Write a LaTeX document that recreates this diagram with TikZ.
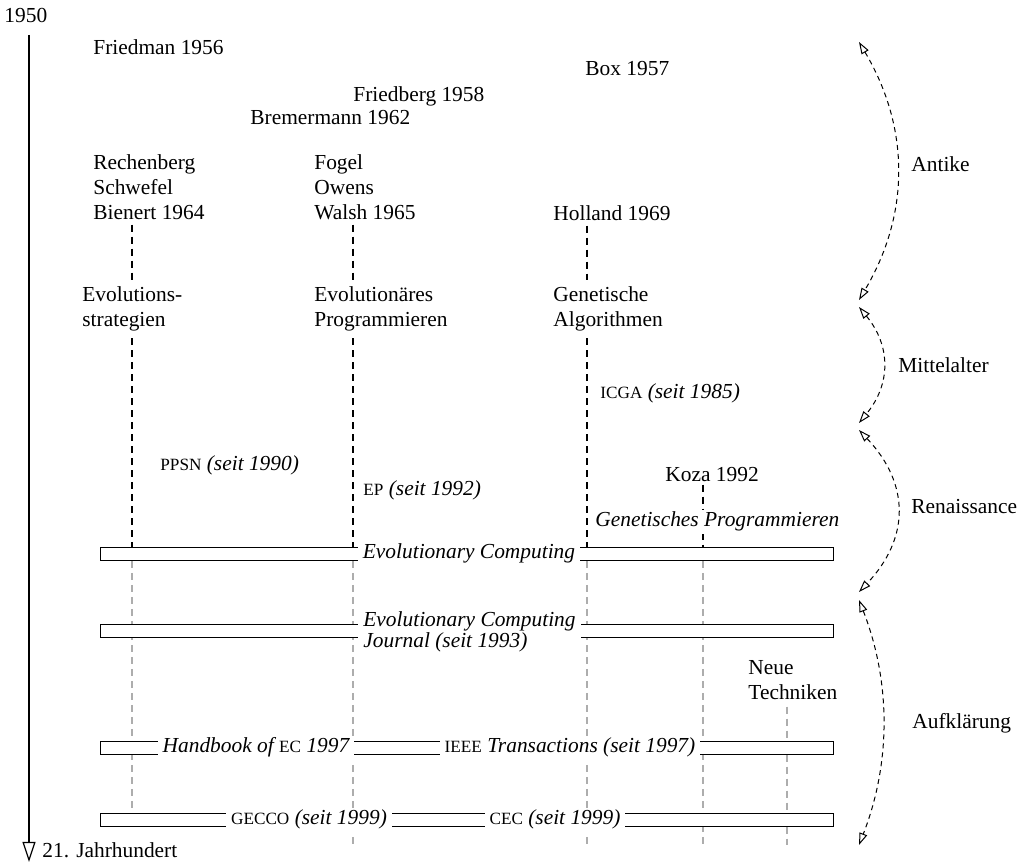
\documentclass[tikz,border=0pt]{standalone}
\usepackage{fontspec}
\setmainfont{Liberation Serif}
\usetikzlibrary{arrows.meta}
% faked small capitals for acronyms
\newcommand\acr[1]{{\fontsize{8.6}{10}\selectfont\upshape #1}}

\begin{document}
\begin{tikzpicture}[x=0.5pt,y=-0.5pt,
  every node/.style={font=\fontsize{10.7}{12.5}\selectfont, inner sep=0pt},
  txt/.style={anchor=base west, align=left},
  lineage/.style={line width=1pt, dash pattern=on 3.5pt off 2.5pt},
  later/.style={lineage, draw=black!32},
  bar/.style={draw, fill=white, line width=0.5pt, minimum width=366.5pt,
    minimum height=6.5pt, anchor=north west},
  onbar/.style={fill=white, inner xsep=2.5pt, inner ysep=1pt, anchor=base,
    font=\fontsize{10.7}{12.5}\selectfont\itshape},
  era/.style={line width=0.5pt, dash pattern=on 2.5pt off 2pt,
    {Triangle[open,length=6pt,width=4pt]}-{Triangle[open,length=6pt,width=4pt]}}
]
\useasboundingbox (0,0) rectangle (1025,866);

% time axis
\node[txt] (y1950) at (4,23) {1950};
\node[txt] (y2000) at (42,858) {21. Jahrhundert};
\coordinate (t0) at (29,35);
\coordinate (t1) at (29,862);
\draw[line width=0.6pt, -{Triangle[open,length=10pt,width=6.5pt]}] (t0) -- (t1);

% columns of the three schools and later branches
\coordinate (cES) at (132,0);
\coordinate (cEP) at (353,0);
\coordinate (cGA) at (587,0);
\coordinate (cGP) at (703,0);
\coordinate (cNT) at (787,0);
\coordinate (bottom) at (0,845);

% early pioneers
\node[txt] (friedman) at (93,55) {Friedman 1956};
\node[txt] (box) at (585,76) {Box 1957};
\node[txt] (friedberg) at (353,102) {Friedberg 1958};
\node[txt] (bremermann) at (250,125) {Bremermann 1962};

% founders (base = last line)
\node[txt] (esfound) at (93,220) {Rechenberg\\Schwefel\\Bienert 1964};
\node[txt] (epfound) at (314,220) {Fogel\\Owens\\Walsh 1965};
\node[txt] (gafound) at (553,221) {Holland 1969};

% schools
\node[txt] (es) at (82,327) {Evolutions-\\strategien};
\node[txt] (ep) at (314,327) {Evolutionäres\\Programmieren};
\node[txt] (ga) at (553,327) {Genetische\\Algorithmen};

% conferences of the schools
\node[txt] (icga) at (600,399) {\acr{ICGA} \textit{(seit 1985)}};
\node[txt] (ppsn) at (160,471) {\acr{PPSN} \textit{(seit 1990)}};
\node[txt] (epconf) at (363,496) {\acr{EP} \textit{(seit 1992)}};
\node[txt] (koza) at (665,482) {Koza 1992};

% bars of the joint field
\node[bar] (bar1) at (100,547) {};
\node[bar] (bar2) at (100,624) {};
\node[bar] (bar3) at (100,741) {};
\node[bar] (bar4) at (100,813) {};

% lines founders -> schools
\draw[lineage, shorten <=2pt, shorten >=3.5pt] (esfound.south -| cES) -- (es.north -| cES);
\draw[lineage, shorten <=2pt, shorten >=3.5pt] (epfound.south -| cEP) -- (ep.north -| cEP);
\draw[lineage, shorten <=2pt, shorten >=3.5pt] (gafound.south -| cGA) -- (ga.north -| cGA);

% lines schools -> joint field
\draw[lineage, shorten <=3pt] (es.south -| cES) -- (bar1.north -| cES);
\draw[lineage, shorten <=3pt] (ep.south -| cEP) -- (bar1.north -| cEP);
\draw[lineage, shorten <=3pt] (ga.south -| cGA) -- (bar1.north -| cGA);
\draw[lineage, shorten <=1pt] (koza.south -| cGP) -- (bar1.north -| cGP);

% continuing lines below the joint field
\node[txt] (neue) at (748,700) {Neue\\Techniken};
\draw[later] (bar1.south -| cES) -- (bar4.south -| cES);
\draw[later] (bar1.south -| cEP) -- (bottom -| cEP);
\draw[later] (bar1.south -| cGA) -- (bottom -| cGA);
\draw[later] (bar1.south -| cGP) -- (bottom -| cGP);
\draw[later, shorten <=3pt] (neue.south -| cNT) -- (bottom -| cNT);

% redraw bars above the grey lines
\node[bar] at (bar1.north west) {};
\node[bar] at (bar2.north west) {};
\node[bar] at (bar3.north west) {};
\node[bar] at (bar4.north west) {};

% genetic programming label
\node[txt, fill=white, inner sep=1pt, font=\fontsize{10.7}{12.5}\selectfont\itshape]
  (gp) at (593,527) {Genetisches Programmieren};

% labels on the bars
\node[onbar] (ec) at (469,559) {Evolutionary Computing};
\node[onbar, anchor=north west, align=left, inner xsep=2.5pt, font=\fontsize{10.7}{10.5}\selectfont\itshape]
  (ecj) at (358,609) {Evolutionary Computing\\Journal (seit 1993)};
\node[onbar] (hb) at (256,753) {Handbook of \acr{EC} 1997};
\node[onbar] (ieee) at (570,753) {\acr{IEEE} Transactions (seit 1997)};
\node[onbar] (gecco) at (309,825) {\acr{GECCO} (seit 1999)};
\node[onbar] (cec) at (555,825) {\acr{CEC} (seit 1999)};

% eras
\node[txt] (antike) at (911,172) {Antike};
\node[txt] (mittel) at (898,373) {Mittelalter};
\node[txt] (renai) at (911,514) {Renaissance};
\node[txt] (aufkl) at (912,729) {Aufklärung};
\coordinate (a0) at (859,42);  \coordinate (a1) at (859,300);
\coordinate (m0) at (859,307); \coordinate (m1) at (859,423);
\coordinate (r0) at (859,430); \coordinate (r1) at (859,592);
\coordinate (k0) at (859,600); \coordinate (k1) at (859,845);
\draw[era] (a0) .. controls (910,128) and (910,214) .. (a1);
\draw[era] (m0) .. controls (891,346) and (891,384) .. (m1);
\draw[era] (r0) .. controls (910,484) and (910,538) .. (r1);
\draw[era] (k0) .. controls (891,682) and (891,763) .. (k1);
\end{tikzpicture}
\end{document}
